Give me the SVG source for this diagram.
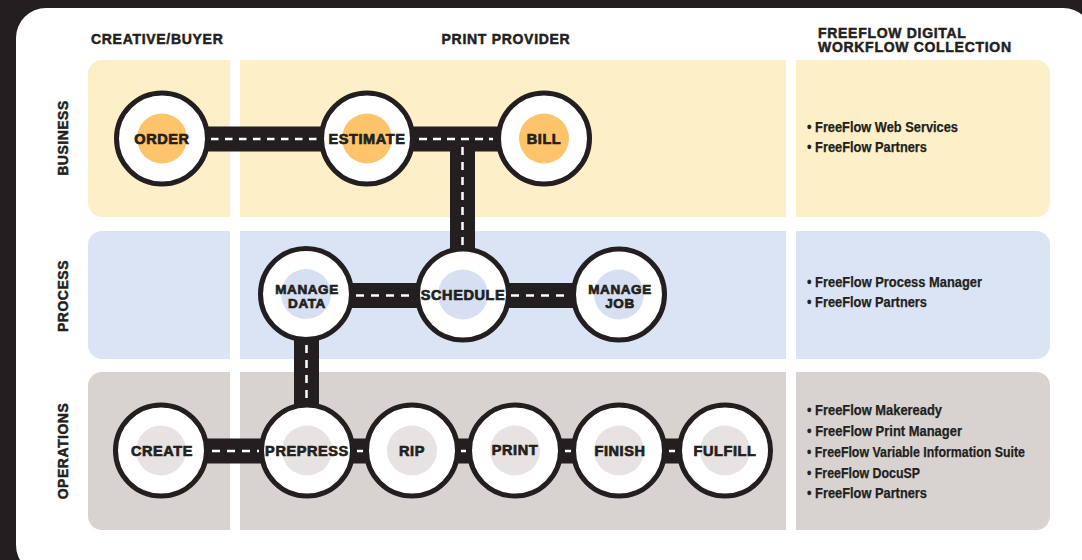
<svg xmlns="http://www.w3.org/2000/svg" width="1082" height="560" viewBox="0 0 1082 560">
<style>
.hdr{font-family:"Liberation Sans",Arial,sans-serif;font-weight:bold;font-size:14px;letter-spacing:0.7px;fill:#231f20;stroke:#231f20;stroke-width:0.5}
.lbl{font-family:"Liberation Sans",Arial,sans-serif;font-weight:bold;font-size:14.5px;letter-spacing:0.6px;fill:#231f20;stroke:#231f20;stroke-width:0.7;text-anchor:middle}
.lbl2{font-family:"Liberation Sans",Arial,sans-serif;font-weight:bold;font-size:13.5px;letter-spacing:0.6px;fill:#231f20;stroke:#231f20;stroke-width:0.7;text-anchor:middle}
.lane{font-family:"Liberation Sans",Arial,sans-serif;font-weight:bold;font-size:14px;letter-spacing:0.5px;fill:#231f20;stroke:#231f20;stroke-width:0.5;text-anchor:middle}
.bul{font-family:"Liberation Sans Narrow","Liberation Sans",Arial,sans-serif;font-weight:bold;font-size:14.5px;fill:#231f20;stroke:#231f20;stroke-width:0.25}
.ring{fill:#ffffff;stroke:#231f20;stroke-width:5}
.cb{fill:#fdc46c}
.cp{fill:#d6e0f2}
.co{fill:#e7e3e2}
.road{fill:#231f20}
.dash{stroke:#ffffff;stroke-width:2.5;fill:none}
</style>
<rect x="0" y="0" width="1082" height="560" fill="#231f20"/>
<rect x="16" y="8" width="1077" height="567" rx="30" ry="30" fill="#ffffff"/>

<g id="lanes">
<rect x="88" y="60" width="962" height="157" rx="14" fill="#fdf0c8"/>
<rect x="88" y="231" width="962" height="128" rx="14" fill="#dbe4f4"/>
<rect x="88" y="372" width="962" height="158" rx="14" fill="#d8d3d1"/>
<rect x="230" y="55" width="10" height="480" fill="#ffffff"/>
<rect x="786" y="55" width="10" height="480" fill="#ffffff"/>
</g>

<g id="headers">
<text class="hdr" x="91" y="44">CREATIVE/BUYER</text>
<text class="hdr" x="506" y="44" text-anchor="middle">PRINT PROVIDER</text>
<text class="hdr" x="818" y="38">FREEFLOW DIGITAL</text>
<text class="hdr" x="818" y="52">WORKFLOW COLLECTION</text>
<text class="lane" transform="translate(68,138) rotate(-90)">BUSINESS</text>
<text class="lane" transform="translate(68,296) rotate(-90)">PROCESS</text>
<text class="lane" transform="translate(68,451) rotate(-90)">OPERATIONS</text>
</g>

<g id="connectors">
<rect class="road" x="162" y="126.5" width="382" height="25"/>
<rect class="road" x="450" y="139" width="25" height="120"/>
<rect class="road" x="307" y="283" width="312" height="25"/>
<rect class="road" x="294" y="295" width="25" height="150"/>
<rect class="road" x="162" y="438.5" width="563" height="25"/>
<line class="dash" x1="211" y1="139" x2="318" y2="139" stroke-dasharray="7.5 6.5"/>
<line class="dash" x1="419" y1="139" x2="493" y2="139" stroke-dasharray="8 6"/>
<line class="dash" x1="462.5" y1="147" x2="462.5" y2="249" stroke-dasharray="8 7"/>
<line class="dash" x1="356" y1="295.5" x2="414" y2="295.5" stroke-dasharray="8 7"/>
<line class="dash" x1="511" y1="295.5" x2="570" y2="295.5" stroke-dasharray="8 7"/>
<line class="dash" x1="306.5" y1="345" x2="306.5" y2="404" stroke-dasharray="8 7"/>
<line class="dash" x1="212" y1="451" x2="259" y2="451" stroke-dasharray="8 7"/>
<line class="dash" x1="357" y1="451" x2="363" y2="451"/>
<line class="dash" x1="461" y1="451" x2="466" y2="451"/>
<line class="dash" x1="565" y1="451" x2="571" y2="451"/>
<line class="dash" x1="669" y1="451" x2="675" y2="451"/>
</g>

<g id="node-order">
<circle class="ring" cx="162" cy="138.5" r="45.5"/>
<circle class="cb" cx="162" cy="138.5" r="25"/>
<text class="lbl" x="162" y="144">ORDER</text>
</g>
<g id="node-estimate">
<circle class="ring" cx="367" cy="138.5" r="45.5"/>
<circle class="cb" cx="367" cy="138.5" r="25"/>
<text class="lbl" x="367" y="144">ESTIMATE</text>
</g>
<g id="node-bill">
<circle class="ring" cx="544" cy="138.5" r="45.5"/>
<circle class="cb" cx="544" cy="138.5" r="25"/>
<text class="lbl" x="544" y="144">BILL</text>
</g>
<g id="node-manage-data">
<circle class="ring" cx="306" cy="294" r="45.5"/>
<circle class="cp" cx="306" cy="294" r="25"/>
<text class="lbl2" x="307" y="294">MANAGE</text>
<text class="lbl2" x="307" y="308">DATA</text>
</g>
<g id="node-schedule">
<circle class="ring" cx="463" cy="294.5" r="45.5"/>
<circle class="cp" cx="463" cy="294.5" r="25"/>
<text class="lbl" x="463" y="300">SCHEDULE</text>
</g>
<g id="node-manage-job">
<circle class="ring" cx="619" cy="294.5" r="45.5"/>
<circle class="cp" cx="619" cy="294.5" r="25"/>
<text class="lbl2" x="620" y="294">MANAGE</text>
<text class="lbl2" x="620" y="308">JOB</text>
</g>
<g id="node-create">
<circle class="ring" cx="161" cy="450.5" r="45.5"/>
<circle class="co" cx="161" cy="450.5" r="25"/>
<text class="lbl" x="162" y="456">CREATE</text>
</g>
<g id="node-prepress">
<circle class="ring" cx="307" cy="450.5" r="45.5"/>
<circle class="co" cx="307" cy="450.5" r="25"/>
<text class="lbl" x="307" y="456">PREPRESS</text>
</g>
<g id="node-rip">
<circle class="ring" cx="412" cy="450.5" r="45.5"/>
<circle class="co" cx="412" cy="450.5" r="25"/>
<text class="lbl" x="412" y="456">RIP</text>
</g>
<g id="node-print">
<circle class="ring" cx="515" cy="450.5" r="45.5"/>
<circle class="co" cx="515" cy="450.5" r="25"/>
<text class="lbl" x="515" y="455">PRINT</text>
</g>
<g id="node-finish">
<circle class="ring" cx="619" cy="450.5" r="45.5"/>
<circle class="co" cx="619" cy="450.5" r="25"/>
<text class="lbl" x="620" y="456">FINISH</text>
</g>
<g id="node-fulfill">
<circle class="ring" cx="725" cy="450.5" r="45.5"/>
<circle class="co" cx="725" cy="450.5" r="25"/>
<text class="lbl" x="725" y="456">FULFILL</text>
</g>

<g id="collection">
<text class="bul" x="807" y="132" textLength="151" lengthAdjust="spacingAndGlyphs">• FreeFlow Web Services</text>
<text class="bul" x="807" y="152" textLength="120" lengthAdjust="spacingAndGlyphs">• FreeFlow Partners</text>
<text class="bul" x="807" y="287" textLength="175" lengthAdjust="spacingAndGlyphs">• FreeFlow Process Manager</text>
<text class="bul" x="807" y="307" textLength="120" lengthAdjust="spacingAndGlyphs">• FreeFlow Partners</text>
<text class="bul" x="807" y="415" textLength="135" lengthAdjust="spacingAndGlyphs">• FreeFlow Makeready</text>
<text class="bul" x="807" y="436" textLength="155" lengthAdjust="spacingAndGlyphs">• FreeFlow Print Manager</text>
<text class="bul" x="807" y="457" textLength="218" lengthAdjust="spacingAndGlyphs">• FreeFlow Variable Information Suite</text>
<text class="bul" x="807" y="478" textLength="113" lengthAdjust="spacingAndGlyphs">• FreeFlow DocuSP</text>
<text class="bul" x="807" y="498" textLength="120" lengthAdjust="spacingAndGlyphs">• FreeFlow Partners</text>
</g>
</svg>
